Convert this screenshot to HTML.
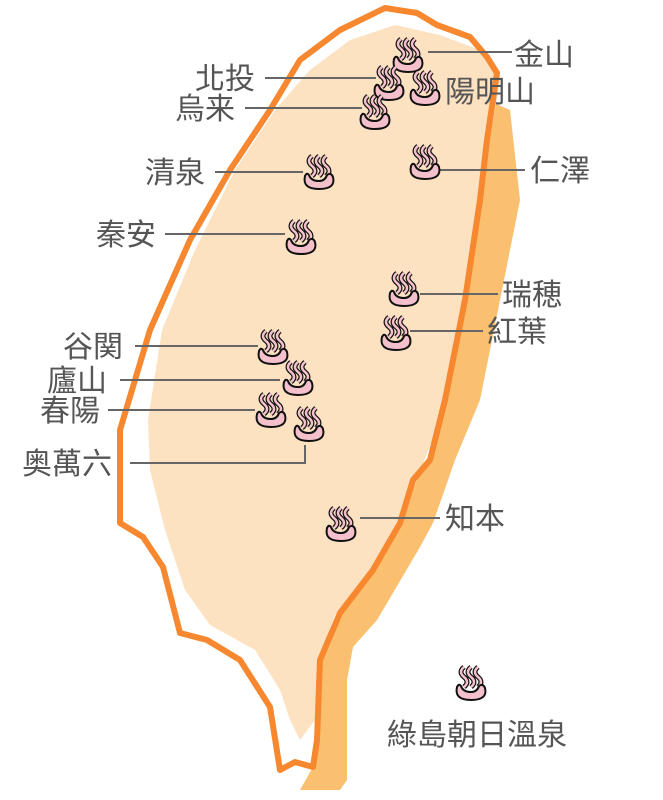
<!DOCTYPE html>
<html><head><meta charset="utf-8"><style>
html,body{margin:0;padding:0;background:#fff;width:663px;height:800px;overflow:hidden}
text{font-family:"Liberation Sans","Noto Sans CJK TC","Noto Sans CJK JP",sans-serif;font-size:30px;fill:#555}
</style></head><body>
<svg width="663" height="800" viewBox="0 0 663 800" xmlns="http://www.w3.org/2000/svg">
<defs>
<g id="ic">
<path d="M-4,-16 q-6,5 0,10 q6,5 0,10 M3,-16 q-6,5 0,10 q6,5 0,10 M10,-16 q-6,5 0,10 q6,5 0,10" fill="none" stroke="#111" stroke-width="5"/>
<path d="M-4,-16 q-6,5 0,10 q6,5 0,10 M3,-16 q-6,5 0,10 q6,5 0,10 M10,-16 q-6,5 0,10 q6,5 0,10" fill="none" stroke="#f4c0cc" stroke-width="2.5"/>
<path d="M-11,4 q-3,13 14,13 q17,0 14,-12 q-2,-5 -6,-2 q-2,6 -8,6 q-8,0 -10,-6 q-2,-3 -4,1z" fill="#f4c0cc" stroke="#111" stroke-width="2"/>
</g>
</defs>
<!-- east shadow band -->
<path d="M487,100 L510,110 L520,200 L500,300 L480,400 L455,460 L433,523 L420,547 L377,620 L353,647 L347,680 L347,780 L340,790 L300,790 L313,767 L317,740 L320,660 L340,613 L373,570 L400,523 L413,480 L430,460 L445,400 L465,300 L480,200 L487,140 Z" fill="#fbbf70"/>
<!-- land fill -->
<path d="M395,25 L440,35 L480,50 L500,80 L490,140 L478,220 L462,320 L440,420 L413,490 L395,525 L370,570 L335,615 L318,660 L315,720 L300,740 L290,720 L280,690 L255,650 L210,625 L185,590 L165,530 L150,470 L148,420 L162,330 L195,250 L235,170 L275,110 L310,70 L350,40 Z" fill="#fde2c2"/>
<!-- outline -->
<path d="M385,8 L417,13 L437,25 L470,37 L487,57 L497,73 L487,140 L480,200 L465,300 L445,400 L430,460 L413,480 L400,523 L373,570 L340,613 L320,660 L317,740 L313,767 L295,762 L280,770 L270,707 L240,660 L207,640 L180,633 L163,567 L143,537 L120,523 L120,430 L150,330 L190,240 L230,170 L270,110 L300,60 L340,30 Z" fill="none" stroke="#f7882f" stroke-width="6" stroke-linejoin="round"/>
<!-- leader lines -->
<g stroke="#666" stroke-width="2" fill="none">
<line x1="428" y1="52" x2="512" y2="52"/>
<line x1="265" y1="78" x2="376" y2="78"/>
<line x1="245" y1="108" x2="362" y2="108"/>
<line x1="215" y1="172" x2="303" y2="172"/>
<line x1="440" y1="170" x2="525" y2="170"/>
<line x1="165" y1="234" x2="285" y2="234"/>
<line x1="420" y1="294" x2="498" y2="294"/>
<line x1="410" y1="331" x2="483" y2="331"/>
<line x1="135" y1="346" x2="258" y2="346"/>
<line x1="120" y1="380" x2="280" y2="380"/>
<line x1="108" y1="410" x2="255" y2="410"/>
<polyline points="130,463 305,463 305,445"/>
<line x1="360" y1="518" x2="440" y2="518"/>
</g>
<use href="#ic" x="405" y="55"/>
<use href="#ic" x="386" y="83"/>
<use href="#ic" x="422" y="88"/>
<use href="#ic" x="372" y="112"/>
<use href="#ic" x="316" y="172"/>
<use href="#ic" x="422" y="162"/>
<use href="#ic" x="298" y="237"/>
<use href="#ic" x="401" y="289"/>
<use href="#ic" x="393" y="333"/>
<use href="#ic" x="270" y="347"/>
<use href="#ic" x="295" y="378"/>
<use href="#ic" x="268" y="410"/>
<use href="#ic" x="306" y="424"/>
<use href="#ic" x="338" y="524"/>
<use href="#ic" x="468" y="683"/>
<text x="514" y="65">金山</text>
<text x="195" y="89">北投</text>
<text x="445" y="102">陽明山</text>
<text x="175" y="119">烏来</text>
<text x="145" y="183">清泉</text>
<text x="530" y="181">仁澤</text>
<text x="96" y="245">秦安</text>
<text x="502" y="305">瑞穂</text>
<text x="487" y="342">紅葉</text>
<text x="63" y="357">谷関</text>
<text x="47" y="391">廬山</text>
<text x="40" y="421">春陽</text>
<text x="22" y="474">奥萬六</text>
<text x="445" y="529">知本</text>
<text x="387" y="745">綠島朝日溫泉</text>
</svg>
</body></html>
